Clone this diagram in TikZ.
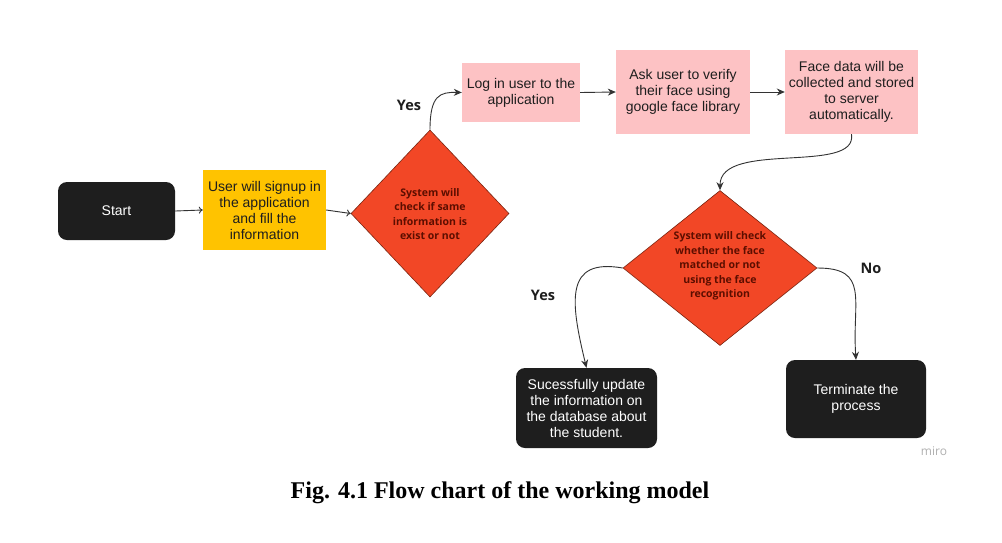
\documentclass[tikz,border=0pt]{standalone}
\usepackage{fontspec}
\setmainfont{Liberation Sans}
\newfontfamily\opensans{Open Sans}
\newfontfamily\capfont{Liberation Serif}
\usetikzlibrary{shapes.geometric,arrows.meta}
\definecolor{boxblack}{HTML}{1E1E1E}
\definecolor{boxyellow}{HTML}{FFC300}
\definecolor{boxpink}{HTML}{FDC2C4}
\definecolor{dred}{HTML}{F24726}
\definecolor{dborder}{HTML}{7A2410}
\definecolor{dtextc}{HTML}{5C0E00}
\definecolor{linec}{HTML}{333333}
\definecolor{mirogray}{HTML}{B0B0B0}
\tikzset{
  boxtext/.style={font=\fontsize{14}{16}\selectfont, align=center, inner sep=0pt},
  blackbox/.style={boxtext, fill=boxblack, text=white, rounded corners=9pt},
  yellowbox/.style={boxtext, fill=boxyellow, text=boxblack},
  pinkbox/.style={boxtext, fill=boxpink, text=boxblack},
  decision/.style={diamond, fill=dred, draw=dborder, line width=0.6pt, inner sep=0pt},
  dtext/.style={font=\opensans\bfseries\fontsize{10.5}{14.5}\selectfont, text=dtextc, align=center, inner sep=0pt},
  lbl/.style={font=\opensans\bfseries\fontsize{14.5}{16}\selectfont, text=boxblack, inner sep=0pt},
  conn/.style={draw=linec, line width=0.9pt, -{Stealth[length=8pt,width=7pt]}},
  openconn/.style={draw=linec, line width=0.9pt, -{To[length=4pt,width=7pt]}}
}
\begin{document}
\begin{tikzpicture}[x=1pt,y=-1pt]
\useasboundingbox (0,0) rectangle (1002,542);
\fill[white] (0,0) rectangle (1002,542);

\node[blackbox, minimum width=117pt, minimum height=58pt] (start) at (116.5,211) {Start};
\node[yellowbox, minimum width=123pt, minimum height=80pt] (signup) at (264.5,210) {User will signup in\\the application\\and fill the\\information};
\node[decision, minimum width=158pt, minimum height=167pt] (d1) at (430,213.5) {};
\node[dtext] (d1t) at (430,214) {System will\\check if same\\information is\\exist or not};

\node[pinkbox, minimum width=118pt, minimum height=59pt] (login) at (521,92.5) {Log in user to the\\application};
\node[pinkbox, minimum width=134pt, minimum height=84pt] (ask) at (683,92) {Ask user to verify\\their face using\\google face library};
\node[pinkbox, minimum width=133pt, minimum height=84pt] (face) at (851.5,92) {Face data will be\\collected and stored\\to server\\automatically.};

\node[decision, minimum width=194pt, minimum height=155pt] (d2) at (720,268) {};
\node[dtext] (d2t) at (720,266) {System will check\\whether the face\\matched or not\\using the face\\recognition};

\node[blackbox, minimum width=141pt, minimum height=80pt] (update) at (586.5,408) {Sucessfully update\\the information on\\the database about\\the student.};
\node[blackbox, minimum width=140pt, minimum height=78pt] (term) at (856,399) {Terminate the\\process};

\node[lbl] (yes1) at (409,105) {Yes};
\node[lbl] (yes2) at (543,295) {Yes};
\node[lbl] (no) at (871,268) {No};
\node[font=\opensans\fontsize{12}{14}\selectfont, text=mirogray, inner sep=0pt] (miro) at (934,451) {miro};

\node[font=\capfont\bfseries\fontsize{24}{28}\selectfont, text=black, inner sep=0pt] (cap) at (500,493) {Fig. 4.1 Flow chart of the working model};

\draw[openconn] (start.east) -- (signup.west);
\draw[openconn] (signup.east) -- (d1.west);
\draw[conn] (d1.north) .. controls (430,95) and (440,92) .. (login.west);
\draw[conn] (login.east) -- (ask.west);
\draw[conn] (ask.east) -- (face.west);
\draw[conn] (face.south) .. controls (858,175) and (720,140) .. (d2.north);
\draw[conn] (d2.west) .. controls (565,258) and (570,300) .. (update.north);
\draw[conn] (d2.east) .. controls (870,268) and (852,300) .. (term.north);
\end{tikzpicture}
\end{document}
